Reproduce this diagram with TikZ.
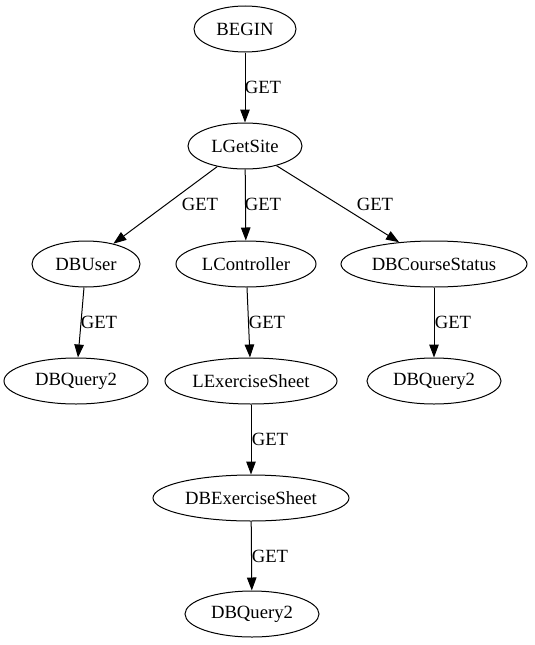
\documentclass[tikz,border=0pt]{standalone}
\usepackage{fontspec}
\setmainfont{Liberation Serif}
\usetikzlibrary{shapes.geometric,arrows.meta}
\begin{document}
\begin{tikzpicture}[x=1pt,y=-1pt,
  nd/.style={draw,ellipse,line width=1pt,inner sep=0pt,minimum height=46pt,font=\fontsize{18.67}{20}\selectfont},
  arr/.style={draw,line width=1pt,-{Triangle[length=13pt,width=9.5pt]}},
  lbl/.style={font=\fontsize{18.67}{20}\selectfont,inner sep=0pt}]
\useasboundingbox (0,0) rectangle (535,645);
\node[nd,minimum width=102pt] (begin) at (245,29) {BEGIN};
\node[nd,minimum width=114pt] (lgetsite) at (245,146) {LGetSite};
\node[nd,minimum width=108pt] (dbuser) at (86,264) {DBUser};
\node[nd,minimum width=140pt] (lcontroller) at (246,264) {LController};
\node[nd,minimum width=186pt] (dbcourse) at (434,264) {DBCourseStatus};
\node[nd,minimum width=144pt] (dbqa) at (76,381) {DBQuery2};
\node[nd,minimum width=172pt] (lex) at (251,381) {LExerciseSheet};
\node[nd,minimum width=134pt] (dbqb) at (434,381) {DBQuery2};
\node[nd,minimum width=196pt] (dbex) at (251,498) {DBExerciseSheet};
\node[nd,minimum width=134pt] (dbqc) at (252,614) {DBQuery2};
\draw[arr] (begin) -- (lgetsite);
\draw[arr] (lgetsite) -- (dbuser);
\draw[arr] (lgetsite) -- (lcontroller);
\draw[arr] (lgetsite) -- (dbcourse);
\draw[arr] (dbuser) -- (dbqa);
\draw[arr] (lcontroller) -- (lex);
\draw[arr] (dbcourse) -- (dbqb);
\draw[arr] (lex) -- (dbex);
\draw[arr] (dbex) -- (dbqc);
\node[lbl] (l1) at (263,87) {GET};
\node[lbl] (l2) at (200,204) {GET};
\node[lbl] (l3) at (263,204) {GET};
\node[lbl] (l4) at (375,204) {GET};
\node[lbl] (l5) at (99,322) {GET};
\node[lbl] (l6) at (267,322) {GET};
\node[lbl] (l7) at (453,322) {GET};
\node[lbl] (l8) at (270,439) {GET};
\node[lbl] (l9) at (270,556) {GET};
\end{tikzpicture}
\end{document}
